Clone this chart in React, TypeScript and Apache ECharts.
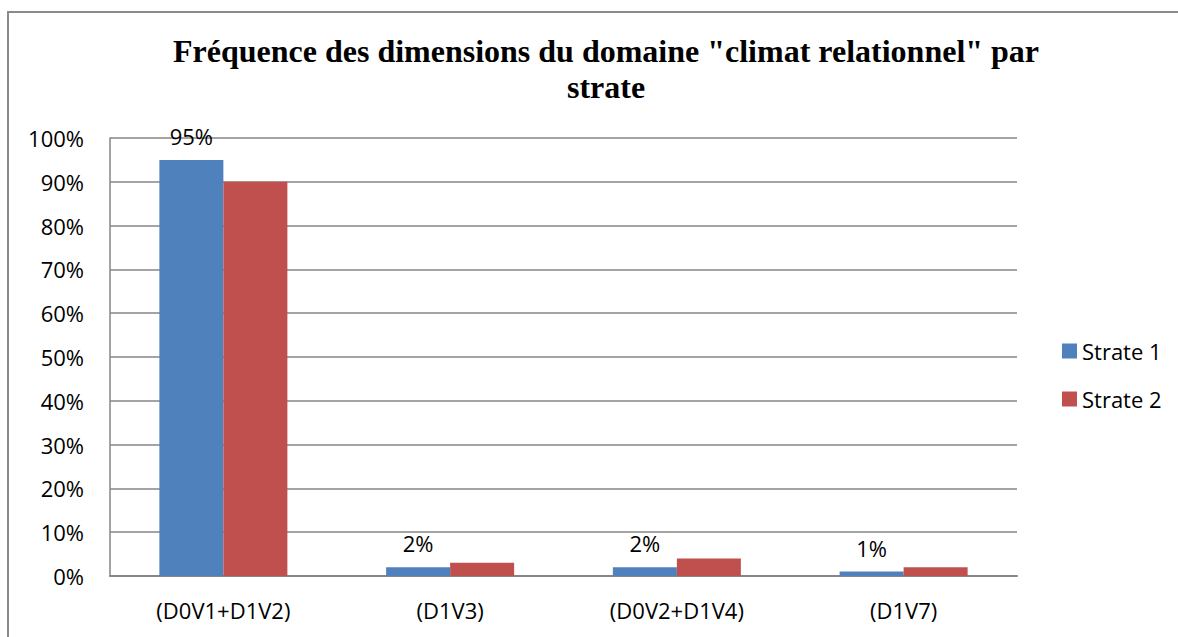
import React, { useEffect, useRef } from "react";
import * as echarts from "echarts";

const categories = ["(D0V1+D1V2)", "(D1V3)", "(D0V2+D1V4)", "(D1V7)"];
const strate1 = [95, 2, 2, 1];
const strate2 = [90, 3, 4, 2];
const seriesNames = ["Strate 1", "Strate 2"];
const titleText = 'Fréquence des dimensions du domaine "climat relationnel" par\nstrate';

export default function App() {
  const ref = useRef<HTMLDivElement>(null);
  useEffect(() => {
    if (!ref.current) return;
    const chart = echarts.init(ref.current, undefined, { renderer: "svg" });
    const font = "'Open Sans', 'Noto Sans', sans-serif";
    chart.setOption({
      animation: false,
      backgroundColor: "#ffffff",
      title: {
        text: titleText,
        left: 601,
        textAlign: "center",
        top: 28,
        textStyle: {
          fontFamily: "'Liberation Serif', 'DejaVu Serif', serif",
          fontWeight: "bold",
          fontSize: 32,
          lineHeight: 36,
          color: "#000000",
        },
      },
      graphic: [
        {
          type: "rect",
          shape: { x: 8, y: 12, width: 1300, height: 800 },
          style: { fill: "none", stroke: "#8a8a8a", lineWidth: 2 },
          silent: true,
        },
      ],
      legend: {
        orient: "vertical",
        left: 1057,
        top: 335,
        itemWidth: 15,
        itemHeight: 15,
        itemGap: 26,
        icon: "rect",
        textStyle: { fontFamily: font, fontSize: 22, color: "#000" },
        data: seriesNames,
      },
      grid: { left: 110, right: 161, top: 138, bottom: 61, containLabel: false },
      xAxis: {
        type: "category",
        data: categories,
        axisLine: { lineStyle: { color: "#868686", width: 2 } },
        axisTick: { show: false },
        axisLabel: { fontFamily: font, fontSize: 22, color: "#000", margin: 23 },
      },
      yAxis: {
        type: "value",
        min: 0,
        max: 100,
        interval: 10,
        axisLine: { show: true, lineStyle: { color: "#868686", width: 1.5 } },
        axisTick: { show: false },
        splitLine: { lineStyle: { color: "#868686", width: 1.5 } },
        axisLabel: {
          fontFamily: font,
          fontSize: 22,
          color: "#000",
          margin: 26,
          formatter: "{value}%",
        },
      },
      series: [
        {
          name: seriesNames[0],
          type: "bar",
          data: strate1,
          barWidth: 64,
          barGap: "0%",
          itemStyle: { color: "#4F81BD" },
          label: {
            show: true,
            position: "top",
            distance: 13,
            formatter: "{c}%",
            fontFamily: font,
            fontSize: 22,
            color: "#000",
          },
        },
        {
          name: seriesNames[1],
          type: "bar",
          data: strate2,
          barWidth: 64,
          barGap: "0%",
          itemStyle: { color: "#C0504D" },
        },
      ],
    });
    return () => chart.dispose();
  }, []);
  return (
    <div
      ref={ref}
      style={{ position: "absolute", left: 0, top: 0, width: 1178, height: 637 }}
    />
  );
}
